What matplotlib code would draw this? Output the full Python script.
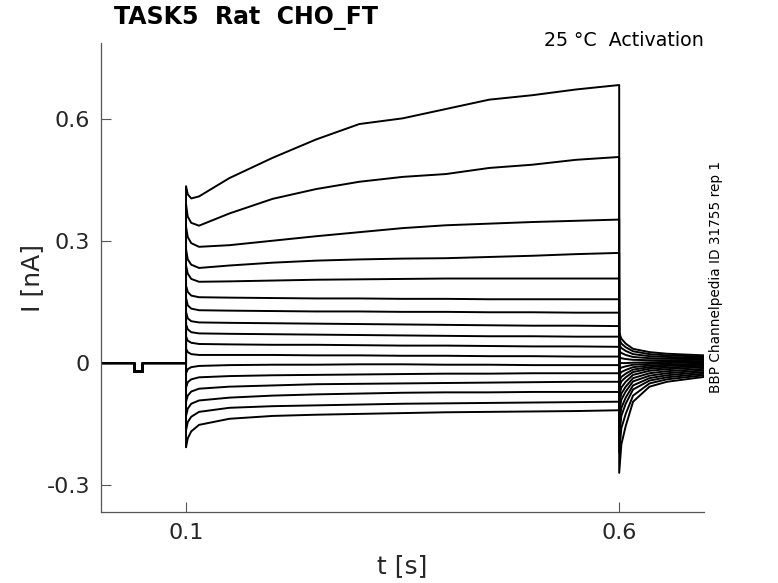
import matplotlib
matplotlib.use("Agg")
import matplotlib.pyplot as plt

# ---------------- data ----------------
# holding period before the step (shared by all sweeps)
pre_t = [0.002, 0.0403, 0.0403, 0.050, 0.050, 0.1]
pre_i = [0.0, 0.0, -0.021, -0.021, 0.0, 0.0]

# step period sample times [s]
step_t = [0.1, 0.102, 0.106, 0.115, 0.15, 0.2, 0.25, 0.3, 0.35, 0.4, 0.45, 0.5, 0.55, 0.6]

# step currents [nA] for each sweep (top to bottom)
sweep01 = [0.435, 0.415, 0.405, 0.410, 0.455, 0.505, 0.550, 0.588, 0.602, 0.625, 0.648, 0.659, 0.673, 0.684]
sweep02 = [0.390, 0.360, 0.345, 0.338, 0.368, 0.404, 0.428, 0.446, 0.458, 0.465, 0.480, 0.488, 0.500, 0.507]
sweep03 = [0.335, 0.310, 0.295, 0.286, 0.290, 0.301, 0.312, 0.322, 0.332, 0.339, 0.343, 0.347, 0.350, 0.353]
sweep04 = [0.280, 0.255, 0.242, 0.234, 0.240, 0.247, 0.252, 0.255, 0.257, 0.258, 0.261, 0.264, 0.268, 0.271]
sweep05 = [0.240, 0.220, 0.207, 0.200, 0.201, 0.203, 0.205, 0.206, 0.207, 0.208, 0.208, 0.208, 0.208, 0.208]
sweep06 = [0.190, 0.175, 0.166, 0.162, 0.161, 0.160, 0.159, 0.159, 0.158, 0.158, 0.157, 0.157, 0.157, 0.157]
sweep07 = [0.160, 0.142, 0.134, 0.130, 0.129, 0.128, 0.127, 0.127, 0.126, 0.126, 0.125, 0.125, 0.124, 0.124]
sweep08 = [0.125, 0.110, 0.103, 0.100, 0.099, 0.098, 0.097, 0.096, 0.095, 0.094, 0.093, 0.092, 0.092, 0.091]
sweep09 = [0.095, 0.083, 0.076, 0.073, 0.072, 0.071, 0.070, 0.069, 0.068, 0.067, 0.066, 0.066, 0.065, 0.065]
sweep10 = [0.065, 0.055, 0.050, 0.047, 0.046, 0.045, 0.045, 0.044, 0.043, 0.043, 0.042, 0.041, 0.041, 0.040]
sweep11 = [0.035, 0.027, 0.022, 0.020, 0.020, 0.020, 0.019, 0.019, 0.018, 0.018, 0.017, 0.017, 0.016, 0.016]
sweep12 = [-0.025, -0.015, -0.010, -0.007, -0.005, -0.004, -0.004, -0.003, -0.003, -0.004, -0.004, -0.005, -0.005, -0.005]
sweep13 = [-0.060, -0.047, -0.040, -0.035, -0.032, -0.030, -0.029, -0.028, -0.027, -0.026, -0.026, -0.025, -0.025, -0.025]
sweep14 = [-0.095, -0.080, -0.070, -0.063, -0.058, -0.055, -0.052, -0.051, -0.050, -0.049, -0.048, -0.047, -0.046, -0.046]
sweep15 = [-0.130, -0.112, -0.100, -0.092, -0.085, -0.080, -0.077, -0.075, -0.073, -0.072, -0.072, -0.071, -0.071, -0.071]
sweep16 = [-0.165, -0.145, -0.132, -0.120, -0.110, -0.106, -0.104, -0.102, -0.100, -0.099, -0.098, -0.097, -0.096, -0.095]
sweep17 = [-0.207, -0.185, -0.168, -0.152, -0.137, -0.130, -0.127, -0.125, -0.123, -0.121, -0.120, -0.119, -0.118, -0.116]

# tail period sample times [s] and tail currents [nA]
tail_t = [0.6, 0.6025, 0.6075, 0.616, 0.635, 0.655, 0.698]
tail01 = [-0.270, -0.200, -0.155, -0.095, -0.058, -0.046, -0.034]
tail02 = [-0.220, -0.160, -0.125, -0.080, -0.050, -0.040, -0.030]
tail03 = [-0.180, -0.130, -0.100, -0.065, -0.043, -0.035, -0.026]
tail04 = [-0.150, -0.110, -0.085, -0.055, -0.037, -0.030, -0.022]
tail05 = [-0.120, -0.090, -0.070, -0.045, -0.031, -0.025, -0.018]
tail06 = [-0.100, -0.075, -0.058, -0.037, -0.025, -0.020, -0.014]
tail07 = [-0.080, -0.060, -0.046, -0.029, -0.019, -0.015, -0.010]
tail08 = [-0.060, -0.045, -0.035, -0.022, -0.014, -0.011, -0.007]
tail09 = [-0.045, -0.034, -0.026, -0.016, -0.010, -0.007, -0.004]
tail10 = [-0.030, -0.022, -0.017, -0.010, -0.006, -0.004, -0.001]
tail11 = [-0.015, -0.011, -0.008, -0.004, -0.002, 0.000, 0.002]
tail12 = [0.000, 0.000, 0.000, 0.001, 0.002, 0.003, 0.005]
tail13 = [0.015, 0.012, 0.010, 0.008, 0.007, 0.007, 0.008]
tail14 = [0.030, 0.025, 0.020, 0.015, 0.012, 0.011, 0.010]
tail15 = [0.045, 0.037, 0.030, 0.022, 0.017, 0.015, 0.013]
tail16 = [0.060, 0.048, 0.039, 0.029, 0.022, 0.019, 0.016]
tail17 = [0.075, 0.060, 0.048, 0.035, 0.027, 0.023, 0.019]

x_ticks = [0.1, 0.6]
x_tick_labels = ["0.1", "0.6"]
y_ticks = [-0.3, 0, 0.3, 0.6]
y_tick_labels = ["-0.3", "0", "0.3", "0.6"]

title_text = "TASK5  Rat  CHO_FT"
cond_text = "25 °C  Activation"
side_text = "BBP Channelpedia ID 31755 rep 1"

sweeps = [sweep01, sweep02, sweep03, sweep04, sweep05, sweep06, sweep07, sweep08,
          sweep09, sweep10, sweep11, sweep12, sweep13, sweep14, sweep15, sweep16, sweep17]
tails = [tail01, tail02, tail03, tail04, tail05, tail06, tail07, tail08,
         tail09, tail10, tail11, tail12, tail13, tail14, tail15, tail16, tail17]

# ---------------- figure ----------------
plt.rcParams['font.family'] = ['DejaVu Sans']
fig = plt.figure(figsize=(7.78, 5.83), dpi=100)
ax = fig.add_axes([0.130, 0.122, 0.775, 0.804])

axis_col = '#262626'
for s, tl in zip(sweeps, tails):
    t = pre_t + step_t + tail_t
    y = pre_i + s + tl
    ax.plot(t, y, color='black', lw=1.4, solid_joinstyle='round')

ax.set_xlim(0.002, 0.698)
ax.set_ylim(-0.366, 0.787)
ax.set_xticks(x_ticks)
ax.set_xticklabels(x_tick_labels)
ax.set_yticks(y_ticks)
ax.set_yticklabels(y_tick_labels)

for side in ['top', 'right']:
    ax.spines[side].set_visible(False)
for side in ['left', 'bottom']:
    ax.spines[side].set_color('#555555')
    ax.spines[side].set_linewidth(0.9)
ax.tick_params(direction='in', length=7, width=0.8, colors='#555555',
               labelcolor=axis_col, labelsize=16, pad=8)

ax.set_xlabel('t [s]', fontsize=18, color=axis_col, labelpad=8)
ax.set_ylabel('I [nA]', fontsize=18, color=axis_col, labelpad=2)

fig.text(114 / 778, 1 - 18 / 583, title_text, fontsize=17, fontweight='bold',
         ha='left', va='center', color='black')
fig.text(704 / 778, 1 - 40 / 583, cond_text, fontsize=13.7,
         ha='right', va='center', color='black')
fig.text(716 / 778, 1 - 277 / 583, side_text, fontsize=9.8, rotation=90,
         ha='center', va='center', color='black')

fig.savefig('out.png', dpi=100)
